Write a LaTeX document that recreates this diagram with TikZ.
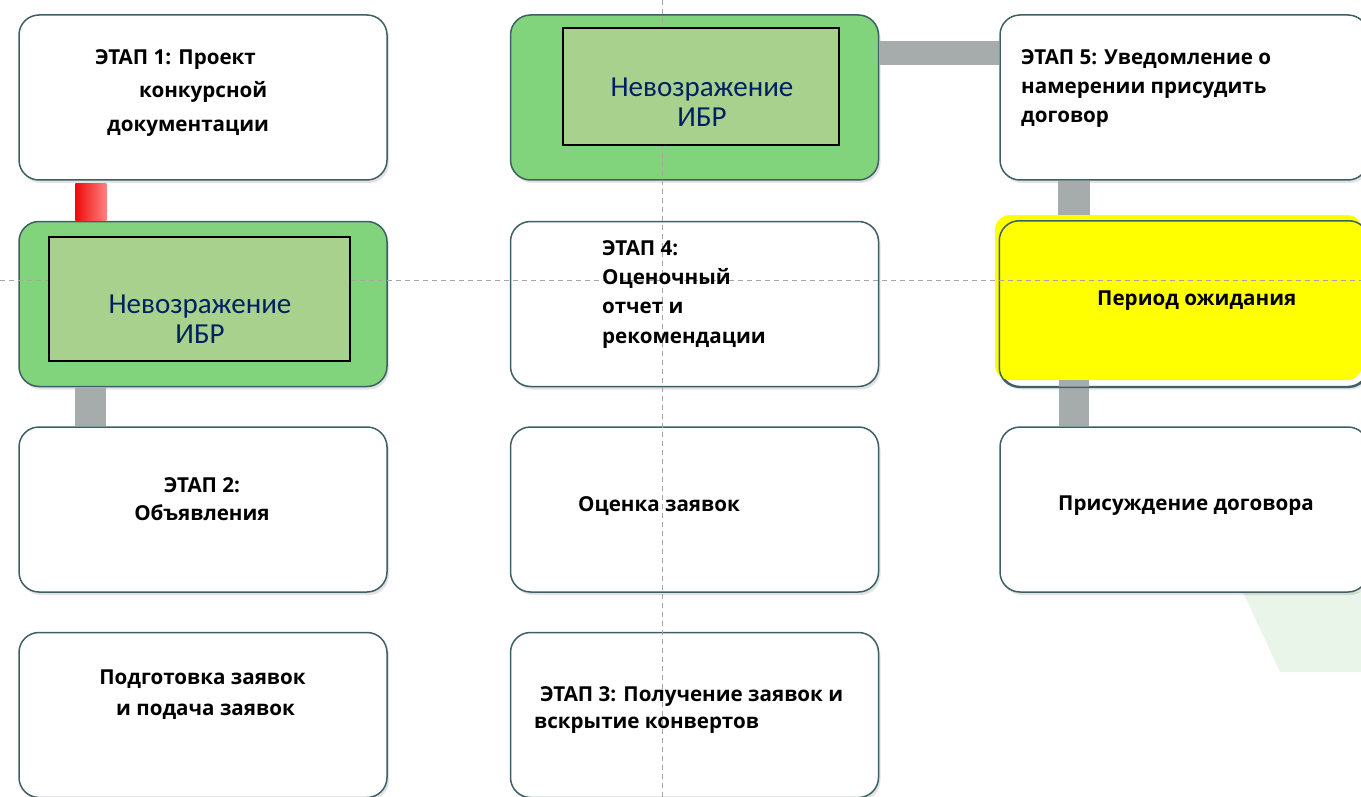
\documentclass[tikz,border=0pt]{standalone}
\usepackage{fontspec}
\setmainfont{Open Sans}
\newfontfamily\calib{Carlito}
\usetikzlibrary{calc,shadows}
\definecolor{bord}{HTML}{3F5F66}
\definecolor{gout}{HTML}{82D47C}
\definecolor{ginn}{HTML}{A9D18E}
\definecolor{navy}{HTML}{002060}
\definecolor{barg}{HTML}{A6ACAC}
\definecolor{glowy}{HTML}{FFFF00}
\definecolor{pale}{HTML}{E9F5E9}
\definecolor{guide}{HTML}{A6A6A6}
\definecolor{redL}{HTML}{F00A0A}
\definecolor{redR}{HTML}{FF8080}
\tikzset{
  card/.style={draw=bord, line width=1.5pt, rounded corners=20pt,
    minimum width=368pt, minimum height=165pt, inner sep=0pt, fill=white,
    drop shadow={opacity=0.22, shadow xshift=2pt, shadow yshift=-3pt}},
  greencard/.style={card, fill=gout},
  innerbox/.style={draw=black, line width=1.3pt, fill=ginn, inner sep=0pt},
  lbl/.style={inner sep=0pt, anchor=base west, font=\bfseries\fontsize{20.6}{24}\selectfont},
  lblc/.style={lbl, anchor=base},
  nav/.style={inner sep=0pt, anchor=base, text=navy, font=\calib\fontsize{29}{30}\selectfont},
  guideline/.style={draw=guide, line width=0.9pt, dash pattern=on 5pt off 4pt},
}
\begin{document}
\begin{tikzpicture}[x=1pt,y=-1pt]
\useasboundingbox (0,0) rectangle (1361,797);
% pale background shape
\fill[pale] (1243,592) -- (1361,592) -- (1361,672) -- (1280,672) -- cycle;
% cards
\node[card]      (b11) at (203,97.5) {};
\node[greencard] (b21) at (203,304) {};
\node[card]      (b31) at (203,509.5) {};
\node[card]      (b41) at (203,715) {};
\node[greencard] (b12) at (694.5,97.5) {};
\node[card]      (b22) at (694.5,304) {};
\node[card]      (b32) at (694.5,509.5) {};
\node[card]      (b42) at (694.5,715) {};
\node[card]      (b13) at (1184,97.5) {};
\node[card]      (b23) at (1184,304) {};
\node[card]      (b33) at (1184,509.5) {};
% yellow highlight
\node[fill=glowy, rounded corners=15pt, minimum width=367pt, minimum height=165pt, inner sep=0pt] (glow) at (1178.5,297.5) {};
% connectors
\shade[left color=redL, right color=redR] ($(b11.south west)+(57,3)$) rectangle ($(b21.north west)+(88,0)$);
\fill[barg] ($(b21.south west)+(57,0)$) rectangle ($(b31.north west)+(88,0)$);
\fill[barg] ($(b12.north east)+(0,27)$) rectangle ($(b13.north west)+(0,51)$);
\fill[barg] ($(b13.south west)+(59,0)$) rectangle ($(glow.north west)+(95,0)$);
\fill[barg] ($(glow.south west)+(64,0)$) rectangle ($(b33.north west)+(90,0)$);
% border of the highlighted card
\draw[bord, line width=1.5pt, rounded corners=20pt] (b23.south west) rectangle (b23.north east);
% guides
\draw[guideline] (0,280) -- (1361,280);
\draw[guideline] (662,0) -- (662,797);
% inner boxes
\node[innerbox, minimum width=301pt, minimum height=124pt] (i21) at (199.5,299) {};
\node[innerbox, minimum width=276pt, minimum height=117pt] (i12) at (701,86.5) {};
\node[nav] (n21a) at (200,313) {Невозражение};
\node[nav] (n21b) at (200,343) {ИБР};
\node[nav] (n12a) at (702,97) {Невозражение};
\node[nav] (n12b) at (702,127) {ИБР};
% labels
\node[lbl] (t11a) at (95,65) {ЭТАП 1: Проект};
\node[lbl] (t11b) at (139,98) {конкурсной};
\node[lbl] (t11c) at (107,132) {документации};
\node[lbl] (t13a) at (1021,65) {ЭТАП 5: Уведомление о};
\node[lbl] (t13b) at (1021,94) {намерении присудить};
\node[lbl] (t13c) at (1021,123) {договор};
\node[lbl] (t22a) at (602,255) {ЭТАП 4:};
\node[lbl] (t22b) at (602,284) {Оценочный};
\node[lbl] (t22c) at (602,313) {отчет и};
\node[lbl] (t22d) at (602,343) {рекомендации};
\node[lbl] (t23) at (1097,305) {Период ожидания};
\node[lbl] (t33) at (1058,510) {Присуждение договора};
\node[lblc] (t31a) at (202,492) {ЭТАП 2:};
\node[lblc] (t31b) at (202,520) {Объявления};
\node[lblc] (t41a) at (202.5,684) {Подготовка заявок};
\node[lblc] (t41b) at (205.5,715) {и подача заявок};
\node[lbl] (t32) at (578,511) {Оценка заявок};
\node[lbl] (t42a) at (540,701) {ЭТАП 3: Получение заявок и};
\node[lbl] (t42b) at (534,728) {вскрытие конвертов};
\end{tikzpicture}
\end{document}
